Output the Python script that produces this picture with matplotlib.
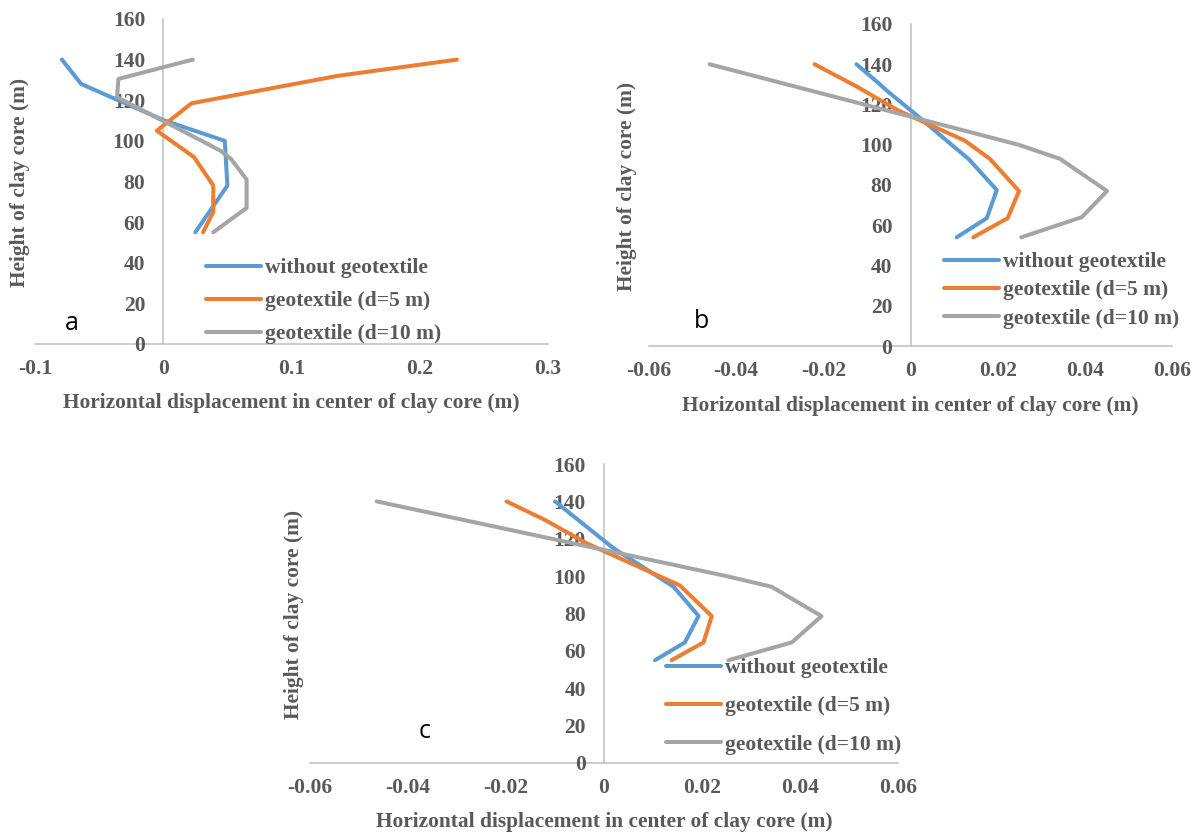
import matplotlib
matplotlib.use("Agg")
import matplotlib.pyplot as plt
from matplotlib.lines import Line2D

W, H = 1195, 836

series_names = ["without geotextile", "geotextile (d=5 m)", "geotextile (d=10 m)"]
series_colors = ["#5B9BD5", "#ED7D31", "#A5A5A5"]

# --- panel a ---
a_none_h = [140, 128, 110, 100, 78, 55]
a_none_x = [-0.079, -0.064, 0.001, 0.048, 0.050, 0.025]
a_d5_h = [140, 132, 118.5, 105, 92, 78, 65, 55]
a_d5_x = [0.229, 0.136, 0.022, -0.005, 0.024, 0.039, 0.039, 0.031]
a_d10_h = [140, 130.5, 121.5, 100, 95, 91, 81, 67, 55]
a_d10_x = [0.023, -0.035, -0.036, 0.030, 0.045, 0.053, 0.065, 0.065, 0.039]

# --- panel b ---
b_none_h = [140, 130, 127, 114, 100, 93, 77.5, 63.5, 54]
b_none_x = [-0.0124, -0.0070, -0.0055, 0.0018, 0.0094, 0.0133, 0.0198, 0.0175, 0.0106]
b_d5_h = [140, 129, 117, 102, 93, 77, 63.5, 54]
b_d5_x = [-0.0220, -0.0124, -0.0028, 0.0125, 0.0182, 0.0249, 0.0223, 0.0144]
b_d10_h = [140, 100, 93, 77, 64, 54]
b_d10_x = [-0.0461, 0.0248, 0.0343, 0.0451, 0.0393, 0.0254]

# --- panel c ---
c_none_h = [140, 115, 94.3, 78.7, 64.5, 55]
c_none_x = [-0.0100, 0.0019, 0.0142, 0.0193, 0.0165, 0.0104]
c_d5_h = [140, 130, 117.5, 95, 78.6, 64.5, 55]
c_d5_x = [-0.0199, -0.0120, -0.0035, 0.0155, 0.0220, 0.0203, 0.0138]
c_d10_h = [140, 100, 94.3, 78.6, 64.5, 55]
c_d10_x = [-0.0464, 0.0250, 0.0342, 0.0444, 0.0383, 0.0254]

y_ticks = [0, 20, 40, 60, 80, 100, 120, 140, 160]
a_x_ticks = [-0.1, 0, 0.1, 0.2, 0.3]
a_x_labels = ["-0.1", "0", "0.1", "0.2", "0.3"]
bc_x_ticks = [-0.06, -0.04, -0.02, 0, 0.02, 0.04, 0.06]
bc_x_labels = ["-0.06", "-0.04", "-0.02", "0", "0.02", "0.04", "0.06"]

x_title = "Horizontal displacement in center of clay core (m)"
y_title = "Height of clay core (m)"

TXT = "#595959"
AXC = "#BFBFBF"
LW = 2.9
serif = {"family": "Liberation Serif", "weight": "bold"}


def box(l, t, r, b):
    return [l / W, 1 - b / H, (r - l) / W, (b - t) / H]


fig = plt.figure(figsize=(W / 100, H / 100), dpi=100)


def panel(rect, xlim, xticks, xlabels, data, letter, letter_xy, xt_xy, yt_xy,
          leg_xy, leg_space):
    ax = fig.add_axes(box(*rect))
    for (h, x), c in zip(data, series_colors):
        ax.plot(x, h, color=c, lw=LW, solid_capstyle="round",
                solid_joinstyle="round", clip_on=False)
    ax.set_xlim(*xlim)
    ax.set_ylim(0, 160)
    for s in ["top", "right"]:
        ax.spines[s].set_visible(False)
    ax.spines["left"].set_position(("data", 0))
    for s in ["left", "bottom"]:
        ax.spines[s].set_color(AXC)
        ax.spines[s].set_linewidth(1.1)
        ax.spines[s].set_zorder(0.5)
    ax.set_xticks(xticks)
    ax.set_xticklabels(xlabels)
    ax.set_yticks(y_ticks)
    ax.set_yticklabels([str(v) for v in y_ticks])
    ax.tick_params(length=0, labelcolor=TXT)
    ax.tick_params(axis="y", pad=13)
    ax.tick_params(axis="x", pad=11)
    for t in ax.get_xticklabels() + ax.get_yticklabels():
        t.set_fontfamily("Liberation Serif")
        t.set_fontweight("bold")
        t.set_fontsize(15.5)
    ax.patch.set_alpha(0)

    fig.text(xt_xy[0] / W, 1 - xt_xy[1] / H, x_title, ha="center", va="center",
             color=TXT, fontsize=15.4, **serif)
    fig.text(yt_xy[0] / W, 1 - yt_xy[1] / H, y_title, ha="center", va="center",
             rotation=90, color=TXT, fontsize=15.4, **serif)
    fig.text(letter_xy[0] / W, 1 - letter_xy[1] / H, letter, ha="center",
             va="center", color="black", fontsize=18, family="Open Sans")

    handles = [Line2D([], [], color=c, lw=LW, solid_capstyle="round")
               for c in series_colors]
    ax.legend(handles, series_names, loc="upper left",
              bbox_to_anchor=(leg_xy[0] / W, 1 - leg_xy[1] / H),
              bbox_transform=fig.transFigure, frameon=False, borderpad=0,
              borderaxespad=0, handlelength=2.55, handletextpad=0.2,
              labelspacing=leg_space, labelcolor=TXT,
              prop={"family": "Liberation Serif", "weight": "bold", "size": 15.5})
    return ax


panel((35, 19, 548, 344), (-0.1, 0.3), a_x_ticks, a_x_labels,
      [(a_none_h, a_none_x), (a_d5_h, a_d5_x), (a_d10_h, a_d10_x)],
      "a", (72, 323), (291, 403), (20, 182), (206, 258), 0.6)

panel((649, 24, 1172, 346), (-0.06, 0.06), bc_x_ticks, bc_x_labels,
      [(b_none_h, b_none_x), (b_d5_h, b_d5_x), (b_d10_h, b_d10_x)],
      "b", (702, 322), (910, 406), (627, 186), (944, 252), 0.38)

panel((310, 464, 898, 763), (-0.06, 0.06), bc_x_ticks, bc_x_labels,
      [(c_none_h, c_none_x), (c_d5_h, c_d5_x), (c_d10_h, c_d10_x)],
      "c", (425, 732), (604, 822), (294, 614), (666, 658), 0.85)

fig.savefig("out.png", dpi=100)
